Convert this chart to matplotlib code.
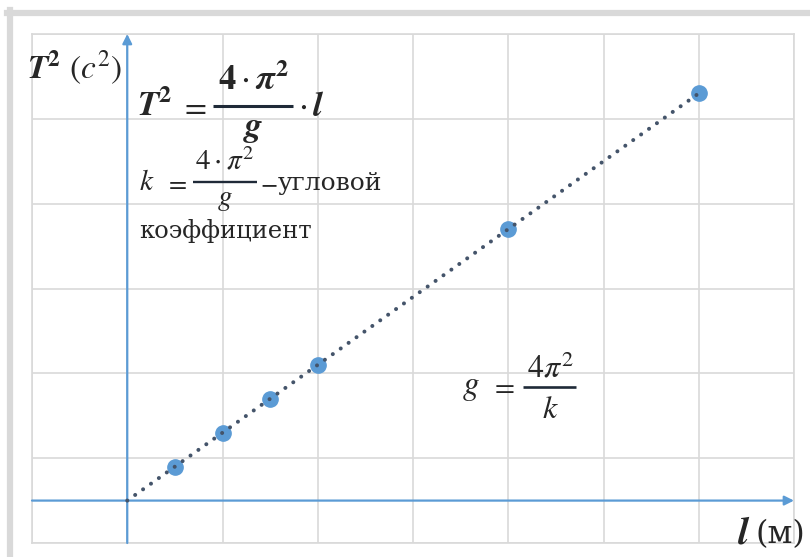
import numpy as np
import matplotlib
matplotlib.use("Agg")
import matplotlib.pyplot as plt
from matplotlib.lines import Line2D
from matplotlib.transforms import Affine2D

plt.rcParams["mathtext.fontset"] = "stix"

# pendulum length and squared period
l_vals = np.array([0.5, 1.0, 1.5, 2.0, 4.0, 6.0])
t2_vals = np.array([0.4, 0.8, 1.2, 1.6, 3.2, 4.8])

# slope of the trend line through the origin
k = np.sum(l_vals * t2_vals) / np.sum(l_vals ** 2)
l_fit = np.array([0.0, l_vals.max()])

blue = "#5b9bd5"
dots = "#44546a"
ink = "#262626"
barc = "#1f2a38"
gridc = "#d9d9d9"

W, H = 810, 557
fig = plt.figure(figsize=(W / 100, H / 100), dpi=100)
# pixel positions measured from the top-left corner
page = Affine2D().scale(1, -1).translate(0, H)

ax = fig.add_axes([32 / W, 1 - 543 / H, 762 / W, 509 / H])
ax.set_xlim(-1, 7)
ax.set_ylim(-0.5, 5.5)
ax.set_xticks(np.arange(-1, 8, 1))
ax.set_yticks(np.arange(-0.5, 6, 1))
ax.grid(True, color=gridc, lw=1.2)
ax.tick_params(length=0, labelbottom=False, labelleft=False)
for s in ax.spines.values():
    s.set_color(gridc)
    s.set_linewidth(1.2)

# outer frame
fig.add_artist(Line2D([7, W], [13, 13], color=gridc, lw=4.5, transform=page))
fig.add_artist(Line2D([10, 10], [10, H], color=gridc, lw=4.5, transform=page))

# axes arrows
arrow = dict(arrowstyle="-|>", color=blue, lw=1.6, mutation_scale=14,
             shrinkA=0, shrinkB=0)
ax.annotate("", xy=(7, 0), xytext=(-1, 0), arrowprops=arrow, annotation_clip=False)
ax.annotate("", xy=(0, 5.5), xytext=(0, -0.5), arrowprops=arrow, annotation_clip=False)

ax.plot(l_vals, t2_vals, "o", color=blue, ms=11, zorder=4)
ax.plot(l_fit, k * l_fit, color=dots, lw=2.9, dashes=(0.01, 2.4),
        dash_capstyle="round", zorder=5, clip_on=False)


def put(x, y, s, size, ha="left", **kw):
    fig.text(x, y, s, fontsize=size, color=ink, ha=ha, va="baseline",
             transform=page, **kw)


def bar(x0, x1, y, lw):
    fig.add_artist(Line2D([x0, x1], [y, y], color=barc, lw=lw,
                          solid_capstyle="butt", transform=page))


# axis titles
put(27, 79, r"$\mathbfit{T}^{\mathbf{2}}\ (c^2)$", 24)
put(737, 543, r"$\mathbfit{l}$", 28)
put(755, 543, "(м)", 23, family="DejaVu Serif")

# T^2 = 4*pi^2/g * l
put(137, 116, r"$\mathbfit{T}^{\mathbf{2}}$", 25)
put(193, 116, r"$=$", 23, ha="center")
put(253, 90, r"$\mathbf{4}\cdot\boldsymbol{\pi}^{\mathbf{2}}$", 25, ha="center")
bar(213, 293, 106, 2.2)
put(253, 136, r"$\mathbfit{g}$", 25, ha="center")
put(298, 116, r"$\cdot\,\mathbfit{l}$", 25)

# k = 4*pi^2/g - slope
put(139, 190, r"$k$", 21)
put(176, 190, r"$=$", 19, ha="center")
put(225, 170, r"$4\cdot\pi^2$", 21, ha="center")
bar(193, 257, 182, 1.7)
put(225, 205, r"$g$", 21, ha="center")
put(269, 190, r"$-$", 18, ha="center")
put(278, 190, "угловой", 18, family="DejaVu Serif")
put(139, 238, "коэффициент", 17.5, family="DejaVu Serif")

# g = 4*pi^2/k
put(462, 394, r"$g$", 24)
put(502, 394, r"$=$", 21, ha="center")
put(550, 377, r"$4\pi^2$", 23, ha="center")
bar(523, 576, 387, 1.9)
put(550, 418, r"$k$", 23, ha="center")

fig.savefig("out.png", dpi=100)
